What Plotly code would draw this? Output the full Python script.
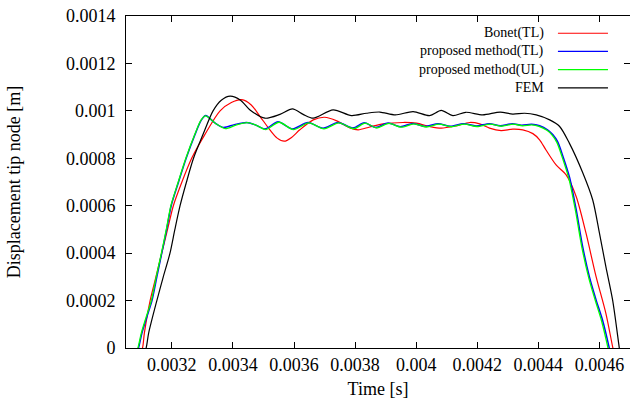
import plotly.graph_objects as go

# ---------------- data ----------------
bonet_t = [0.00309, 0.003104, 0.00311, 0.003129, 0.003148, 0.003167, 0.003186, 0.003205,
           0.003233, 0.003265, 0.003308, 0.003358, 0.003395, 0.003429, 0.003460, 0.003489,
           0.003521, 0.003545, 0.003568, 0.003592, 0.003619, 0.003663, 0.003700, 0.003740,
           0.003783, 0.003810, 0.003848, 0.003892, 0.003957, 0.004001, 0.004044, 0.004082,
           0.004131, 0.004175, 0.004208, 0.004240, 0.004278, 0.004316, 0.004349, 0.004382,
           0.004404, 0.004425, 0.004458, 0.004491, 0.004524, 0.004556, 0.004589, 0.004621,
           0.004644, 0.004655]
bonet_u = [-0.00004, 0.0, 0.000062, 0.0002, 0.0003, 0.0004, 0.0005, 0.0006,
           0.0007, 0.0008, 0.0009, 0.001, 0.001035, 0.001047, 0.001025, 0.000976,
           0.00092, 0.000885, 0.000872, 0.000888, 0.00092, 0.000962, 0.000973, 0.000958,
           0.000928, 0.00092, 0.000932, 0.000945, 0.000951, 0.000948, 0.000934, 0.000927,
           0.000937, 0.000951, 0.000945, 0.000927, 0.000917, 0.000923, 0.00092, 0.000904,
           0.000878, 0.000835, 0.000772, 0.00073, 0.000638, 0.000484, 0.000301, 0.000146,
           0.0, -0.00006]

ptl_t = [0.00308, 0.003091, 0.003102, 0.003118, 0.003135, 0.003151, 0.003167, 0.003183,
         0.003198, 0.003222, 0.003247, 0.003276, 0.003296, 0.003311, 0.003340, 0.003369,
         0.003405, 0.003445, 0.003475, 0.003505, 0.003548, 0.003595, 0.003646, 0.003695,
         0.003744, 0.003793, 0.003830, 0.003867, 0.003908, 0.003948, 0.003990, 0.004030,
         0.004072, 0.004112, 0.004155, 0.004196, 0.004240, 0.004275, 0.004315, 0.004345,
         0.004378, 0.004404, 0.004430, 0.004447, 0.004463, 0.004480, 0.004502, 0.004524,
         0.004545, 0.004567, 0.004589, 0.004610, 0.004632, 0.004640]
ptl_u = [-0.00004, 0.0, 0.000062, 0.00013, 0.0002, 0.0003, 0.0004, 0.0005,
         0.0006, 0.0007, 0.0008, 0.0009, 0.00096, 0.00098, 0.00095, 0.00093,
         0.000942, 0.000951, 0.00094, 0.000924, 0.000954, 0.000924, 0.000951, 0.000927,
         0.000951, 0.000928, 0.00095, 0.00093, 0.000949, 0.000933, 0.000947, 0.000934,
         0.000946, 0.000935, 0.000946, 0.000936, 0.000946, 0.000937, 0.000946, 0.000939,
         0.000943, 0.000937, 0.00092, 0.0009, 0.00087, 0.00081, 0.00072, 0.000582,
         0.000427, 0.000301, 0.000203, 0.000118, 0.0, -0.00005]

pul_t = [0.003078, 0.003089, 0.0031, 0.003116, 0.003133, 0.003149, 0.003166, 0.003182,
         0.003197, 0.003221, 0.003246, 0.003275, 0.003295, 0.003310, 0.003342, 0.003375,
         0.003410, 0.003448, 0.003478, 0.003508, 0.003551, 0.003598, 0.003649, 0.003698,
         0.003747, 0.003796, 0.003833, 0.003870, 0.003911, 0.003951, 0.003993, 0.004033,
         0.004075, 0.004115, 0.004158, 0.004199, 0.004243, 0.004278, 0.004318, 0.004348,
         0.004378, 0.004402, 0.004428, 0.004445, 0.004461, 0.004478, 0.004500, 0.004522,
         0.004543, 0.004565, 0.004587, 0.004607, 0.004628, 0.004636]
pul_u = [-0.00004, 0.0, 0.000062, 0.00013, 0.0002, 0.0003, 0.0004, 0.0005,
         0.0006, 0.0007, 0.0008, 0.0009, 0.00096, 0.000979, 0.000948, 0.000925,
         0.00094, 0.00095, 0.000938, 0.000921, 0.000952, 0.000921, 0.000949, 0.000924,
         0.000949, 0.000925, 0.000948, 0.000928, 0.000947, 0.000931, 0.000945, 0.000932,
         0.000944, 0.000933, 0.000944, 0.000934, 0.000944, 0.000935, 0.000944, 0.000937,
         0.000941, 0.000935, 0.000918, 0.000898, 0.000866, 0.000805, 0.000714, 0.000576,
         0.000421, 0.000296, 0.000198, 0.000114, 0.0, -0.00005]

fem_t = [0.0031, 0.003116, 0.003124, 0.003151, 0.003172, 0.003194, 0.003210, 0.003227,
         0.003248, 0.003271, 0.003302, 0.003335, 0.003362, 0.003391, 0.003425, 0.003456,
         0.003505, 0.003554, 0.003595, 0.003630, 0.003663, 0.003728, 0.003788, 0.003837,
         0.003881, 0.003932, 0.003990, 0.004044, 0.004082, 0.004120, 0.004162, 0.004218,
         0.004275, 0.004316, 0.004355, 0.004393, 0.004437, 0.004469, 0.004501, 0.004545,
         0.004578, 0.004600, 0.004621, 0.004643, 0.004665, 0.004680]
fem_u = [-0.00006, 0.0, 0.000062, 0.0002, 0.0003, 0.0004, 0.0005, 0.0006,
         0.0007, 0.0008, 0.0009, 0.001, 0.001045, 0.001062, 0.001045, 0.001004,
         0.000969, 0.000985, 0.001008, 0.000985, 0.000969, 0.001004, 0.00098, 0.00099,
         0.000995, 0.000983, 0.000997, 0.00098, 0.001002, 0.00098, 0.000994, 0.000983,
         0.000995, 0.000986, 0.00099, 0.000983, 0.000962, 0.000935, 0.000865, 0.00074,
         0.000624, 0.000484, 0.000343, 0.000203, 0.0, -0.00014]

series_names = ["Bonet(TL)", "proposed method(TL)", "proposed method(UL)", "FEM"]
series_colors = ["#ff0000", "#0000ff", "#00ff00", "#000000"]

x_ticks = [0.0032, 0.0034, 0.0036, 0.0038, 0.004, 0.0042, 0.0044, 0.0046]
x_tick_labels = ["0.0032", "0.0034", "0.0036", "0.0038", "0.004", "0.0042", "0.0044", "0.0046"]
y_ticks = [0, 0.0002, 0.0004, 0.0006, 0.0008, 0.001, 0.0012, 0.0014]
y_tick_labels = ["0", "0.0002", "0.0004", "0.0006", "0.0008", "0.001", "0.0012", "0.0014"]

# ---------------- figure ----------------
FONT = "Liberation Serif, Times New Roman, serif"
fig = go.Figure()
data = [(bonet_t, bonet_u, 1.2), (ptl_t, ptl_u, 1.5), (pul_t, pul_u, 1.3), (fem_t, fem_u, 1.2)]
for (t, u, w), name, col in zip(data, series_names, series_colors):
    fig.add_trace(go.Scatter(x=t, y=u, mode="lines", name=name,
                             line=dict(color=col, width=w, shape="spline", smoothing=0.8),
                             showlegend=False, hoverinfo="skip"))

# gnuplot-style key: text right-aligned, sample line on its right
key_rows = [0.9480, 0.8932, 0.8384, 0.7836]
for name, col, yy in zip(series_names, series_colors, key_rows):
    fig.add_annotation(x=0.8327, y=yy, xref="paper", yref="paper", text=name,
                       showarrow=False, xanchor="right", yanchor="middle",
                       font=dict(family=FONT, size=14, color="black"))
    fig.add_shape(type="line", xref="paper", yref="paper", x0=0.857, x1=0.9563,
                  y0=yy, y1=yy, line=dict(color=col, width=1.2))

axis_common = dict(showline=True, linecolor="black", linewidth=1, mirror="ticks",
                   ticks="inside", ticklen=6, tickwidth=1, tickcolor="black",
                   showgrid=False, zeroline=False,
                   tickfont=dict(family=FONT, size=18, color="black"))
fig.update_xaxes(range=[0.00305, 0.0047], tickvals=x_ticks, ticktext=x_tick_labels,
                 title=dict(text="Time [s]", font=dict(family=FONT, size=18, color="black"),
                            standoff=8),
                 ticklabelstandoff=0, **axis_common)
fig.update_yaxes(range=[0, 0.0014], tickvals=y_ticks, ticktext=y_tick_labels,
                 title=dict(text="Displacement tip node [m]",
                            font=dict(family=FONT, size=18, color="black"), standoff=40),
                 ticklabelstandoff=6, **axis_common)
fig.update_layout(width=630, height=407, margin=dict(l=126, r=0, t=16, b=59, autoexpand=False),
                  paper_bgcolor="white", plot_bgcolor="white",
                  font=dict(family=FONT, color="black"))
fig.write_html("out.html", config={"displayModeBar": False, "staticPlot": True},
               post_script="document.body.style.margin='0';document.body.style.overflow='hidden';")
